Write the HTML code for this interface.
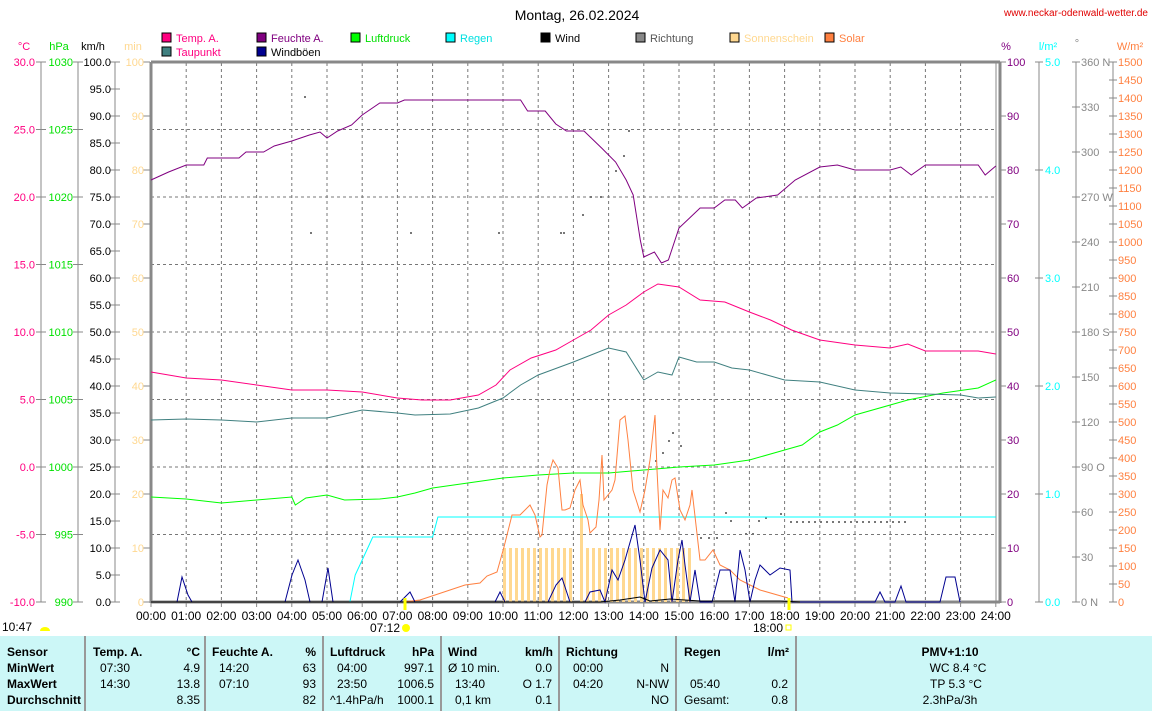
<!DOCTYPE html>
<html><head><meta charset="utf-8"><style>
body{margin:0;background:#fff;width:1152px;height:711px;overflow:hidden;font-family:"Liberation Sans",sans-serif;}
svg{position:absolute;left:0;top:0}
</style></head><body>
<svg id="s" width="1152" height="711" xmlns="http://www.w3.org/2000/svg" font-family="Liberation Sans, sans-serif" font-size="11"></svg>
<script>
const s=document.getElementById('s');let h='';
const X=t=>151+t*35.2;
function L(x1,y1,x2,y2,c,w,d){h+=`<line x1="${x1}" y1="${y1}" x2="${x2}" y2="${y2}" stroke="${c}" stroke-width="${w||1}" ${d?'stroke-dasharray="'+d+'"':''}/>`;}
function T(x,y,t,c,a,fs,fw){h+=`<text x="${x}" y="${y}" fill="${c}" text-anchor="${a||'start'}" font-size="${fs||11}" ${fw?'font-weight="bold"':''}>${t}</text>`;}
function P(pts,c,w){h+=`<polyline fill="none" stroke="${c}" stroke-width="${w||1}" points="${pts.map(p=>X(p[0]).toFixed(1)+','+p[1]).join(' ')}"/>`;}
function Pp(pts,c){h+=`<polyline fill="none" stroke="${c}" stroke-width="1" points="${pts.map(p=>p[0]+','+p[1]).join(' ')}"/>`;}
h+='<rect x="0" y="636" width="1152" height="75" fill="#ccf7f7"/>';
[85,205,323,441,559,676,796].forEach(x=>L(x,636,x,711,'#999',2));
for(let i=1;i<24;i++)L(X(i),63,X(i),602,'#777',1,'3,3');
for(let k=1;k<8;k++){let y=62+k*67.5;L(151,y,996,y,'#777',1,'3,3');}
L(151,62,1000,62,'#888',3);L(151,62,151,603,'#888',3);L(151,602,1000,602,'#888',3);L(1000,62,1000,603,'#888',3);L(996,62,996,602,'#888',1);
L(41,62,41,602,'#888');L(78,62,78,602,'#888');L(115,62,115,602,'#888');
T(24,50,'°C','#ff0080','middle');T(59,50,'hPa','#00e000','middle');T(93,50,'km/h','#000','middle');T(133,50,'min','#ffd890','middle');
for(let k=0;k<=8;k++){let y=62+k*67.5;L(36,y,46,y,'#888');L(73,y,83,y,'#888');
T(35,y+4,(30-k*5).toFixed(1),'#ff0080','end');T(73,y+4,1030-k*5,'#00e000','end');}
for(let k=0;k<=20;k++){let y=62+k*27;L(110,y,120,y,'#888');T(111,y+4,(100-k*5).toFixed(1),'#000','end');}
for(let k=0;k<=10;k++){let y=62+k*54;L(143,y,150,y,'#888');T(144,y+4,100-k*10,'#ffd890','end');}
L(1039,62,1039,602,'#888');L(1076,62,1076,602,'#888');L(1113,62,1113,602,'#888');
T(1006,50,'%','#800080','middle');T(1048,50,'l/m²','#00ffff','middle');T(1077,47,'°','#888','middle');T(1130,50,'W/m²','#ff8040','middle');
for(let k=0;k<=10;k++){let y=62+k*54;L(1000,y,1006,y,'#888');T(1007,y+4,100-k*10,'#800080');}
for(let k=0;k<=5;k++){let y=62+k*108;L(1035,y,1043,y,'#888');T(1045,y+4,(5-k).toFixed(1),'#00ffff');}
const dl={0:' N',3:' W',6:' S',9:' O',12:' N'};
for(let k=0;k<=12;k++){let y=62+k*45;L(1072,y,1080,y,'#888');T(1081,y+4,(360-k*30)+(dl[k]||''),'#888');}
for(let k=0;k<=30;k++){let y=62+k*18;L(1109,y,1117,y,'#888');T(1118,y+4,1500-k*50,'#ff8040');}
for(let i=0;i<=24;i++){L(X(i),602,X(i),607,'#888');T(X(i),620,(i<10?'0':'')+i+':00','#000','middle',12);}
T(577,20,'Montag, 26.02.2024','#000','middle',14);T(1148,16,'www.neckar-odenwald-wetter.de','#e00000','end',10);
const lg=[[162,41,'#ff0080','Temp. A.','#ff0080'],[162,55,'#408080','Taupunkt','#ff0080'],[257,41,'#800080','Feuchte A.','#800080'],[257,55,'#000090','Windböen','#000'],[351,41,'#00ff00','Luftdruck','#00e000'],[446,41,'#00ffff','Regen','#00e0e0'],[541,41,'#000','Wind','#000'],[636,41,'#888','Richtung','#555'],[730,41,'#ffd890','Sonnenschein','#ffd890'],[825,41,'#ff8040','Solar','#ff8040']];
lg.forEach(l=>{h+=`<rect x="${l[0]}" y="${l[1]-8}" width="9" height="9" fill="${l[2]}" stroke="#000"/>`;T(l[0]+14,l[1]+1,l[3],l[4]);});
for(let x=503;x<572;x+=6)h+=`<rect x="${x}" y="548" width="3" height="54" fill="#ffd890"/>`;
for(let x=586;x<691;x+=6)h+=`<rect x="${x}" y="548" width="3" height="54" fill="#ffd890"/>`;
h+='<rect x="580" y="494" width="3" height="108" fill="#ffd890"/>';
[[304,96],[310,232],[410,232],[498,232],[560,232],[563,232],[582,214],[590,196],[600,196],[615,170],[623,155],[628,130],[655,460],[662,452],[668,440],[672,432],[680,445],[700,537],[708,537],[716,537],[725,512],[730,520],[745,533],[752,533],[758,520],[765,517],[780,513]].forEach(d=>h+=`<rect x="${d[0]}" y="${d[1]}" width="2" height="2" fill="#777"/>`);
for(let x=790;x<905;x+=6)h+=`<rect x="${x}" y="521" width="2" height="2" fill="#777"/>`;
P([[0,602],[5.65,602],[5.8,575],[6,560],[6.3,537],[8,537],[8.15,517],[24,517]],'#00ffff');
P([[0,497],[1,499],[2,503],[3,500],[4,497],[4.1,505],[4.4,498],[5,495],[5.5,500],[6.5,499],[7,497],[7.5,493],[8,488],[9,483],[10,478],[11,475],[12,473],[13,473],[14,470],[15,467],[16,465],[17,460],[18,450],[18.5,445],[19,432],[19.5,425],[20,415],[21,405],[21.5,400],[22.5,393],[23.5,388],[24,380]],'#00ff00');
P([[0,420],[1,419],[2,420],[3,422],[4,418],[5,418],[6,410],[7,413],[7.5,415],[8.5,414],[9.3,408],[10,398],[10.5,385],[11,375],[12,362],[12.5,355],[13,348],[13.5,352],[14,380],[14.4,372],[14.8,375],[15,357],[15.5,362],[16,362],[16.5,368],[17,370],[17.5,375],[18,380],[19,382],[20,390],[21,393],[22,394],[23,395],[23.5,398],[24,397]],'#408080');
P([[0,372],[1,378],[2,380],[3,385],[4,390],[5,390],[6,392],[7,398],[7.7,400],[8.5,400],[9.3,395],[9.8,385],[10.2,370],[10.8,358],[11.5,350],[12,340],[12.5,330],[13,315],[13.5,305],[14,292],[14.4,284],[15,287],[15.6,300],[16.3,302],[17,312],[17.6,320],[18.2,330],[19,340],[20,345],[21,348],[21.5,344],[22,351],[23.5,351],[24,354]],'#ff0080');
P([[0,180],[0.5,172],[1,165],[1.5,165],[1.6,158],[2.5,158],[2.7,152],[3.2,152],[3.5,146],[4,141],[4.5,135],[4.8,132],[5,138],[5.3,131],[5.7,125],[6,115],[6.5,103],[7,103],[7.2,100],[10.5,100],[10.7,111],[11.2,111],[11.5,124],[11.8,131],[12.3,131],[12.8,148],[13.2,162],[13.5,180],[13.7,195],[13.9,240],[14,257],[14.3,252],[14.5,263],[14.7,260],[15,228],[15.3,218],[15.6,208],[16,208],[16.3,200],[16.6,200],[16.8,208],[17.2,198],[17.8,195],[18.3,180],[19,167],[19.5,165],[20,170],[21,170],[21.3,167],[21.6,175],[22,165],[23.5,165],[23.7,175],[24,166]],'#800080');
Pp([[403,602],[420,600],[435,595],[450,590],[465,585],[480,583],[487,576],[497,572],[504,547],[512,515],[520,515],[523,512],[530,505],[535,515],[540,537],[542,535],[545,505],[547,485],[550,470],[553,460],[558,468],[562,510],[565,510],[570,508],[575,490],[580,480],[583,505],[588,520],[590,533],[596,527],[599,500],[602,455],[604,500],[612,490],[615,480],[620,420],[625,416],[628,440],[633,490],[640,512],[645,490],[650,460],[655,415],[657,470],[660,530],[663,490],[668,498],[672,480],[675,478],[680,510],[685,520],[690,505],[692,490],[700,560],[705,560],[713,550],[720,565],[730,570],[740,580],[760,590],[788,598]],'#ff8040');
Pp([[151,602],[177,602],[182,577],[188,595],[192,602],[285,602],[292,575],[298,560],[305,580],[310,602],[322,602],[328,568],[333,602],[400,602],[410,592],[415,602],[495,602],[500,592],[505,602],[548,602],[556,585],[562,578],[570,602],[585,602],[590,592],[600,590],[605,602],[612,570],[618,580],[625,560],[635,525],[640,560],[645,602],[652,568],[660,550],[668,560],[672,602],[678,560],[682,540],[685,565],[690,602],[695,570],[700,602],[712,602],[720,570],[730,570],[735,602],[740,550],[745,570],[750,602],[755,580],[760,565],[765,570],[770,575],[780,568],[790,570],[792,602],[875,602],[880,592],[885,602],[895,602],[901,586],[906,602],[940,602],[946,577],[955,577],[960,602]],'#000090');
Pp([[151,602],[600,602],[620,600],[640,597],[650,601],[670,599],[700,601],[780,601],[800,602]],'#000');
L(405,598,405,610,'#ff0',3);L(789,598,789,610,'#ff0',3);
T(32,631,'10:47','#000','end',12);h+='<path d="M40,631 a5,4 0 0 1 10,0 z" fill="#ff0"/>';
T(400,632,'07:12','#000','end',12);h+='<circle cx="406" cy="628" r="4" fill="#ff0"/>';
T(783,632,'18:00','#000','end',12);h+='<rect x="786" y="625" width="5" height="5" fill="none" stroke="#ff0"/>';
const R=[656,672,688,704];
['Sensor','MinWert','MaxWert','Durchschnitt'].forEach((t,i)=>T(7,R[i],t,'#000','start',12,1));
function col(x0,x1,hd,un,rows){T(x0,R[0],hd,'#000','start',12,1);T(x1,R[0],un,'#000','end',12,1);rows.forEach((r,i)=>{T(x0+7,R[i+1],r[0],'#000','start',12);T(x1,R[i+1],r[1],'#000','end',12);});}
col(93,200,'Temp. A.','°C',[['07:30','4.9'],['14:30','13.8'],['','8.35']]);
col(212,316,'Feuchte A.','%',[['14:20','63'],['07:10','93'],['','82']]);
col(330,434,'Luftdruck','hPa',[['04:00','997.1'],['23:50','1006.5'],['','1000.1']]);
h+=`<text x="330" y="${R[3]}" font-size="12">^1.4hPa/h</text>`;
T(448,R[0],'Wind','#000','start',12,1);T(553,R[0],'km/h','#000','end',12,1);
[['Ø 10 min.','0.0'],['  13:40','O 1.7'],['  0,1 km','0.1']].forEach((r,i)=>{T(i?455:448,R[i+1],r[0].trim(),'#000','start',12);T(552,R[i+1],r[1],'#000','end',12);});
col(566,669,'Richtung','',[['00:00','N'],['04:20','N-NW'],['','NO']]);
T(684,R[0],'Regen','#000','start',12,1);T(789,R[0],'l/m²','#000','end',12,1);
T(690,R[2],'05:40','#000','start',12);T(788,R[2],'0.2','#000','end',12);T(684,R[3],'Gesamt:','#000','start',12);T(788,R[3],'0.8','#000','end',12);
T(950,R[0],'PMV+1:10','#000','middle',12,1);T(958,R[1],'WC 8.4 °C','#000','middle',12);T(956,R[2],'TP 5.3 °C','#000','middle',12);T(950,R[3],'2.3hPa/3h','#000','middle',12);
s.innerHTML=h;
</script>
</body></html>
